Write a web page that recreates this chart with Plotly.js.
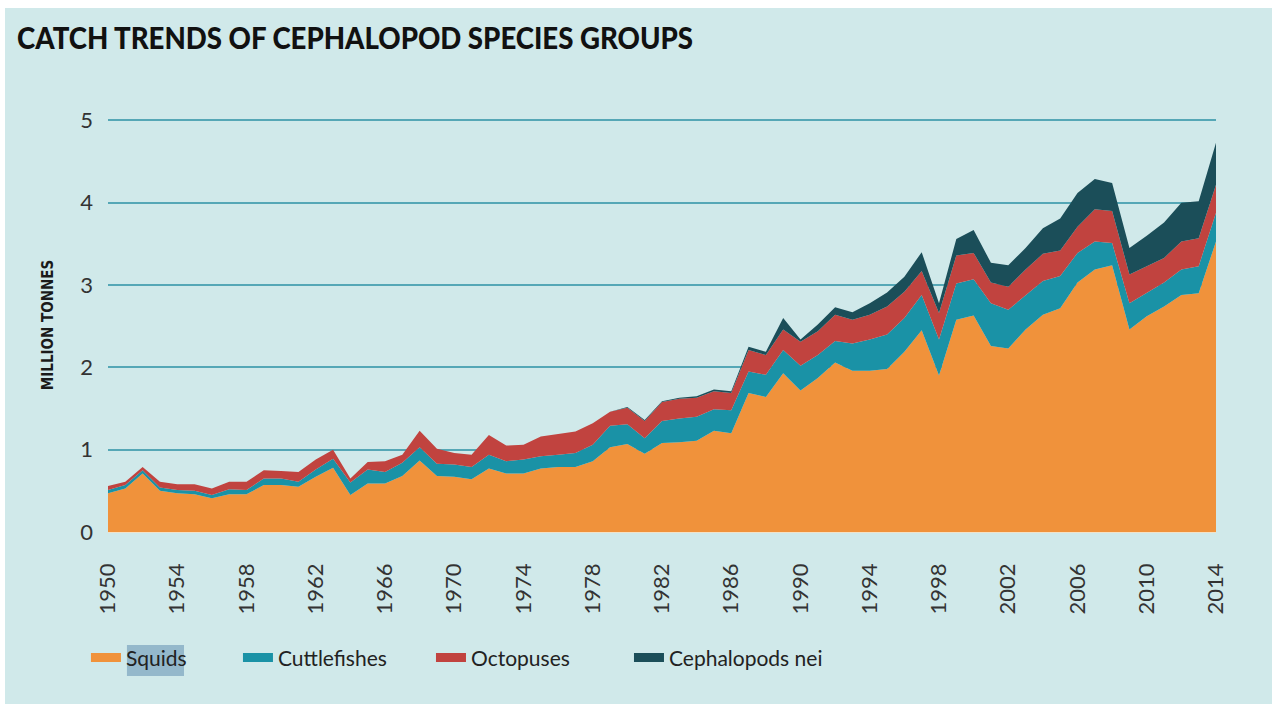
<!DOCTYPE html>
<html>
<head>
<meta charset="utf-8">
<script src="https://cdn.plot.ly/plotly-3.0.1.min.js"></script>
<style>
  html, body { margin: 0; padding: 0; background: #ffffff; width: 1278px; height: 709px; overflow: hidden; }
  #chart { position: absolute; left: 5px; top: 8px; width: 1267px; height: 696px; }
</style>
</head>
<body>
<div id="chart"></div>
<script>
const years = [1950,1951,1952,1953,1954,1955,1956,1957,1958,1959,
  1960,1961,1962,1963,1964,1965,1966,1967,1968,1969,
  1970,1971,1972,1973,1974,1975,1976,1977,1978,1979,
  1980,1981,1982,1983,1984,1985,1986,1987,1988,1989,
  1990,1991,1992,1993,1994,1995,1996,1997,1998,1999,
  2000,2001,2002,2003,2004,2005,2006,2007,2008,2009,
  2010,2011,2012,2013,2014];

const squids = [0.47,0.53,0.71,0.50,0.47,0.46,0.41,0.46,0.46,0.57,
  0.57,0.55,0.67,0.78,0.45,0.59,0.59,0.68,0.87,0.68,
  0.67,0.64,0.77,0.71,0.71,0.77,0.79,0.79,0.86,1.03,
  1.07,0.95,1.08,1.09,1.11,1.23,1.20,1.69,1.64,1.93,
  1.72,1.87,2.06,1.96,1.96,1.98,2.19,2.45,1.90,2.58,
  2.63,2.26,2.23,2.46,2.64,2.72,3.03,3.19,3.24,2.46,
  2.62,2.74,2.88,2.90,3.53];

const cuttlefishes = [0.04,0.04,0.04,0.04,0.04,0.04,0.04,0.06,0.05,0.08,
  0.08,0.06,0.09,0.11,0.15,0.17,0.14,0.16,0.16,0.15,
  0.15,0.15,0.17,0.15,0.17,0.15,0.15,0.17,0.20,0.26,
  0.24,0.19,0.27,0.29,0.29,0.26,0.28,0.26,0.27,0.28,
  0.30,0.28,0.26,0.33,0.38,0.42,0.41,0.43,0.44,0.44,
  0.44,0.52,0.47,0.42,0.41,0.39,0.36,0.34,0.27,0.32,
  0.28,0.29,0.31,0.33,0.35];

const octopuses = [0.05,0.04,0.04,0.07,0.07,0.08,0.08,0.09,0.10,0.10,
  0.09,0.12,0.12,0.11,0.05,0.09,0.13,0.10,0.20,0.18,
  0.14,0.15,0.24,0.19,0.18,0.24,0.25,0.26,0.26,0.17,
  0.20,0.21,0.23,0.24,0.23,0.22,0.21,0.26,0.24,0.25,
  0.29,0.29,0.32,0.29,0.30,0.34,0.32,0.29,0.32,0.34,
  0.32,0.25,0.28,0.31,0.33,0.31,0.32,0.39,0.39,0.35,
  0.33,0.30,0.34,0.34,0.34];

const cephalopodsNei = [0,0,0,0,0,0,0,0,0,0,
  0,0,0,0,0,0,0,0,0,0,
  0,0,0,0,0,0,0,0,0,0,
  0.01,0.01,0.01,0.01,0.02,0.02,0.02,0.04,0.04,0.14,
  0.03,0.08,0.09,0.09,0.14,0.17,0.18,0.23,0.12,0.20,
  0.28,0.24,0.26,0.26,0.31,0.39,0.41,0.37,0.34,0.32,
  0.37,0.43,0.47,0.45,0.51];

const seriesNames = ["Squids", "Cuttlefishes", "Octopuses", "Cephalopods nei"];
const seriesValues = [squids, cuttlefishes, octopuses, cephalopodsNei];
const seriesColors = ["#f0923b", "#1a92a6", "#c1433f", "#1b4e59"];

const xTicks = [1950,1954,1958,1962,1966,1970,1974,1978,1982,1986,1990,1994,1998,2002,2006,2010,2014];
const yTicks = [0,1,2,3,4,5];

const bodyFont = "Lato, 'Open Sans', sans-serif";
const narrowFont = "'DejaVu Sans Condensed', 'Liberation Sans Narrow', Lato, sans-serif";
const legendIds = ["legend", "legend2", "legend3", "legend4"];
const legendX = [-0.0199, 0.1173, 0.2915, 0.4702];

const traces = [];
seriesNames.forEach((name, i) => {
  traces.push({
    type: "scatter",
    mode: "lines",
    x: years,
    y: seriesValues[i],
    name: name,
    stackgroup: "one",
    line: { width: 0, color: seriesColors[i] },
    fillcolor: seriesColors[i],
    showlegend: false,
    hoverinfo: "x+y+name"
  });
});
seriesNames.forEach((name, i) => {
  traces.push({
    type: "scatter",
    mode: "lines",
    x: [null],
    y: [null],
    name: name,
    legend: legendIds[i],
    line: { width: 9, color: seriesColors[i] },
    showlegend: true,
    hoverinfo: "skip"
  });
});

const legendBase = (x) => ({
  orientation: "h",
  x: x, xanchor: "left",
  y: -0.304, yanchor: "middle",
  bgcolor: "rgba(0,0,0,0)",
  font: { family: bodyFont, size: 21, color: "#222222" },
  itemwidth: 30
});

const layout = {
  width: 1267,
  height: 696,
  paper_bgcolor: "#d0e9ea",
  plot_bgcolor: "#d0e9ea",
  margin: { l: 103, r: 56, t: 110, b: 172 },
  title: {
    text: "CATCH TRENDS OF CEPHALOPOD SPECIES GROUPS",
    font: { family: "Lato, sans-serif", size: 31, color: "#111111", weight: 900 },
    xref: "container", x: 0.0095, xanchor: "left",
    yref: "container", y: 0.957, yanchor: "middle"
  },
  xaxis: {
    range: [1950, 2014],
    tickmode: "array",
    tickvals: xTicks,
    ticktext: xTicks.map(String),
    tickangle: -90,
    tickfont: { family: bodyFont, size: 22, color: "#333333" },
    showgrid: false,
    zeroline: false,
    showline: false,
    ticks: "",
    ticklabelstandoff: 26
  },
  yaxis: {
    range: [0, 5.03],
    tickmode: "array",
    tickvals: yTicks,
    ticktext: yTicks.map(String),
    tickfont: { family: bodyFont, size: 22, color: "#333333" },
    showgrid: true,
    gridcolor: "#55a7b6",
    gridwidth: 2,
    zeroline: true,
    zerolinecolor: "#f2e2c8",
    zerolinewidth: 2,
    showline: false,
    ticks: "",
    ticklabelstandoff: 14,
    title: {
      text: "MILLION TONNES",
      font: { family: narrowFont, size: 15, color: "#1a1a1a", weight: "bold" },
      standoff: 22
    }
  },
  legend: legendBase(legendX[0]),
  legend2: legendBase(legendX[1]),
  legend3: legendBase(legendX[2]),
  legend4: legendBase(legendX[3]),
  shapes: [{
    type: "rect", xref: "paper", yref: "paper",
    x0: 0.0171, x1: 0.0686, y0: -0.348, y1: -0.273,
    fillcolor: "#94b8cb", line: { width: 0 }, layer: "below"
  }],
  showlegend: true
};

Plotly.newPlot("chart", traces, layout, { displayModeBar: false, staticPlot: true }).then(gd => {
  const t = gd.querySelector(".gtitle");
  if (t) {
    t.setAttribute("textLength", "676");
    t.setAttribute("lengthAdjust", "spacingAndGlyphs");
  }
});
</script>
</body>
</html>
